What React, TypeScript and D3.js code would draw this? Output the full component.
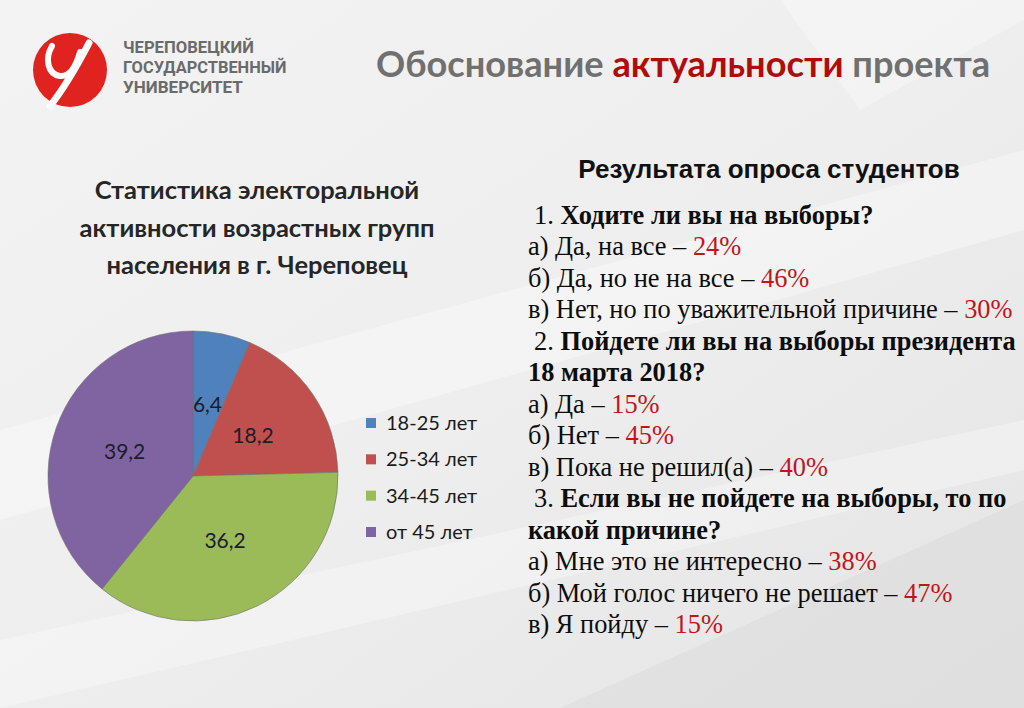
import React from 'react';
import * as d3 from 'd3';

// pie data: age groups of voters, Cherepovets
const ageGroups = ['18-25 лет', '25-34 лет', '34-45 лет', 'от 45 лет'];
const ageShares = [6.4, 18.2, 36.2, 39.2];
const sliceColors = ['#4F81BD', '#C0504D', '#9BBB59', '#8064A2'];

// student survey
const questionNums = ['1.', '2.', '3.'];
const questionTitles = [
  ['Ходите ли вы на выборы?'],
  ['Пойдете ли вы на выборы президента', '18 марта 2018?'],
  ['Если вы не пойдете на выборы, то по', 'какой причине?'],
];
const answerTexts = [
  ['а) Да, на все', 'б) Да, но не на все', 'в) Нет, но по уважительной причине'],
  ['а) Да', 'б) Нет', 'в) Пока не решил(а)'],
  ['а) Мне это не интересно', 'б) Мой голос ничего не решает', 'в) Я пойду'],
];
const answerValues = [
  [24, 46, 30],
  [15, 45, 40],
  [38, 47, 15],
];

const chartTitle = ['Статистика электоральной', 'активности возрастных групп', 'населения в г. Череповец'];
const uniName = ['ЧЕРЕПОВЕЦКИЙ', 'ГОСУДАРСТВЕННЫЙ', 'УНИВЕРСИТЕТ'];

const W = 1024;
const H = 708;
const calibri = 'Lato, "Open Sans", sans-serif';
const times = '"Liberation Serif", "DejaVu Serif", serif';

function PieBlock() {
  const cx = 193;
  const cy = 476;
  const radius = 145;
  const pie = d3.pie<number>().sort(null).value(d => d);
  const arcs = pie(ageShares);
  const arc = d3.arc<d3.PieArcDatum<number>>().innerRadius(0).outerRadius(radius);
  const fmt = (v: number) => v.toFixed(1).replace('.', ',');
  const legendY = d3.scalePoint<string>().domain(ageGroups).range([423, 532]);

  return (
    <g>
      <g transform={`translate(${cx},${cy})`}>
        {arcs.map((a, i) => (
          <path key={i} d={arc(a) || ''} fill={sliceColors[i]} stroke="#6f6f6f" strokeWidth={0.6} />
        ))}
        {arcs.map((a, i) => {
          const [x, y] = arc.centroid(a);
          return (
            <text key={i} x={x} y={y} dy="0.35em" textAnchor="middle" fontFamily={calibri} fontSize={21} fill="#1c1c2a">
              {fmt(ageShares[i])}
            </text>
          );
        })}
      </g>
      {ageGroups.map((g, i) => (
        <g key={g} transform={`translate(366,${legendY(g)})`}>
          <rect x={0} y={-5} width={10} height={10} fill={sliceColors[i]} />
          <text x={20} y={0} dy="0.35em" fontFamily={calibri} fontSize={20} fill="#1a1a1a">{g}</text>
        </g>
      ))}
      {chartTitle.map((t, i) => (
        <text key={i} x={257} y={199 + i * 37.5} textAnchor="middle" fontFamily={calibri} fontWeight="bold" fontSize={25.5} fill="#262626">
          {t}
        </text>
      ))}
    </g>
  );
}

function SurveyBlock() {
  type Line = { kind: 'q' | 'a'; num?: string; text: string; value?: number };
  const lines: Line[] = [];
  questionTitles.forEach((qt, qi) => {
    qt.forEach((t, li) => lines.push({ kind: 'q', num: li === 0 ? questionNums[qi] : undefined, text: t }));
    answerTexts[qi].forEach((t, ai) => lines.push({ kind: 'a', text: t, value: answerValues[qi][ai] }));
  });
  const y = d3.scaleLinear().domain([0, lines.length - 1]).range([224, 633]);

  return (
    <g fontFamily={times} fontSize={26.4} fill="#0d0d0d">
      <text x={769} y={178} textAnchor="middle" fontFamily='"Liberation Sans", Arial, sans-serif' fontWeight="bold" fontSize={26} fill="#111">
        Результата опроса студентов
      </text>
      {lines.map((l, i) => {
        if (l.kind === 'q') {
          return (
            <text key={i} x={l.num ? 534 : 528} y={y(i)}>
              {l.num ? <tspan>{l.num} </tspan> : null}
              <tspan fontWeight="bold">{l.text}</tspan>
            </text>
          );
        }
        return (
          <text key={i} x={528} y={y(i)}>
            {l.text} – <tspan fill="#C0161B">{l.value}%</tspan>
          </text>
        );
      })}
    </g>
  );
}

function Header() {
  return (
    <g>
      <circle cx={70} cy={70} r={37} fill="#E0231F" />
      {/* white "у" swoosh of the logo */}
      <path d="M52,46 C45,58 47,74 60,76 C70,77 76,66 80,52" fill="none" stroke="#fff" strokeWidth={6} strokeLinecap="round" />
      <path d="M89,43 C78,64 66,86 50,106" fill="none" stroke="#fff" strokeWidth={7} strokeLinecap="round" />
      {uniName.map((t, i) => (
        <text key={t} x={123} y={53 + i * 20} fontFamily='"Roboto", "Liberation Sans", sans-serif' fontWeight="bold" fontSize={16} fill="#6a6a6a" textLength={t.length * 10.9} lengthAdjust="spacingAndGlyphs">
          {t}
        </text>
      ))}
      <text x={376} y={77} fontFamily={calibri} fontWeight="bold" fontSize={36} fill="#707070" textLength={614} lengthAdjust="spacingAndGlyphs">
        Обоснование <tspan fill="#B00C0C">актуальности</tspan> проекта
      </text>
    </g>
  );
}

export default function App() {
  return (
    <svg width={W} height={H} style={{ position: 'absolute', left: 0, top: 0, display: 'block' }}>
      <defs>
        <linearGradient id="bg" x1="0" y1="0" x2="1" y2="1">
          <stop offset="0" stopColor="#f3f3f3" />
          <stop offset="0.5" stopColor="#eeeeee" />
          <stop offset="1" stopColor="#e4e4e4" />
        </linearGradient>
      </defs>
      <rect width={W} height={H} fill="url(#bg)" />
      <polygon points="0,430 1024,150 1024,230 0,520" fill="#ffffff" opacity={0.35} />
      <polygon points="0,640 1024,420 1024,470 0,708" fill="#ffffff" opacity={0.3} />
      <polygon points="560,708 1024,500 1024,708" fill="#d8d8d8" opacity={0.4} />
      <polygon points="780,0 1024,0 1024,20 860,110" fill="#ffffff" opacity={0.3} />
      <Header />
      <PieBlock />
      <SurveyBlock />
    </svg>
  );
}
